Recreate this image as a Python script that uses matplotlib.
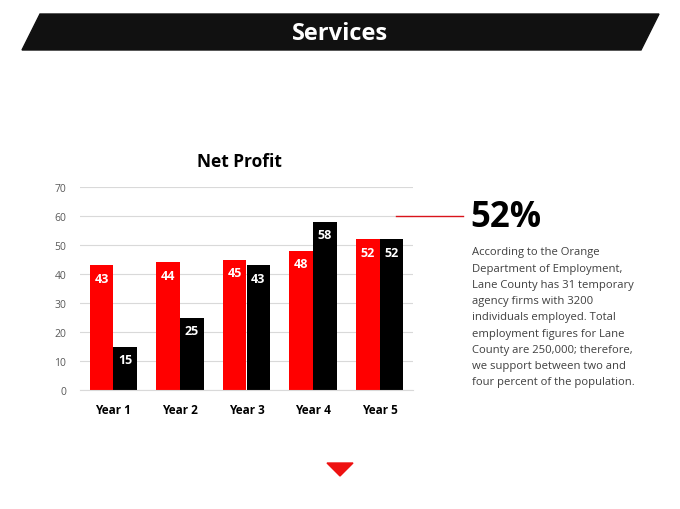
import numpy as np
import matplotlib.pyplot as plt
from matplotlib.patches import Polygon

plt.rcParams['font.family'] = ['Open Sans', 'DejaVu Sans']

# data
years = ['Year 1', 'Year 2', 'Year 3', 'Year 4', 'Year 5']
series_red = [43, 44, 45, 48, 52]
series_black = [15, 25, 43, 58, 52]
y_ticks = [0, 10, 20, 30, 40, 50, 60, 70]

headline = '52%'
body_lines = ["According to the Orange",
              "Department of Employment,",
              "Lane County has 31 temporary",
              "agency firms with 3200",
              "individuals employed. Total",
              "employment figures for Lane",
              "County are 250,000; therefore,",
              "we support between two and",
              "four percent of the population."]

W, H = 680, 510
fig = plt.figure(figsize=(6.8, 5.1), dpi=100)

# chart
ax = fig.add_axes([80 / W, 1 - 391 / H, 333 / W, 203 / H])
x = np.arange(len(years))
w = 0.355
b1 = ax.bar(x - w / 2, series_red, w, color='#ff0000')
b2 = ax.bar(x + w / 2, series_black, w, color='#000000')

for bars, vals in ((b1, series_red), (b2, series_black)):
    for r, v in zip(bars, vals):
        ax.text(r.get_x() + r.get_width() / 2, v - 2.2, str(v), color='white',
                fontsize=9, fontweight='bold', ha='center', va='top')

ax.set_xlim(-0.5, 4.5)
ax.set_ylim(0, 70)
ax.set_yticks(y_ticks)
ax.set_xticks(x)
ax.set_xticklabels(years, fontsize=8.5, fontweight='bold')
ax.tick_params(axis='y', labelsize=7.5, labelcolor='#595959', length=0, pad=10)
ax.tick_params(axis='x', length=0, pad=9)
ax.grid(axis='y', color='#d9d9d9', lw=0.8)
ax.set_axisbelow(True)
for s in ('top', 'right', 'left'):
    ax.spines[s].set_visible(False)
ax.spines['bottom'].set_color('#d9d9d9')
ax.set_title('Net Profit', fontsize=12.5, fontweight='bold', pad=15, x=0.48)

# overlay layer in pixel coords (y down)
bg = fig.add_axes([0, 0, 1, 1])
bg.set_zorder(5)
bg.set_xlim(0, W)
bg.set_ylim(H, 0)
bg.axis('off')

# banner
bg.add_patch(Polygon([(40, 15), (659, 15), (641, 51), (22, 51)],
                     closed=True, color='#111111'))
bg.text(340, 34, 'Services', color='white', fontsize=17, fontweight='bold',
        ha='center', va='center')

# red connector line + headline
bg.plot([396, 463], [217, 217], color='#d9141b', lw=1)
bg.text(470, 218, headline, fontsize=25, fontweight='bold', color='black',
        ha='left', va='center')
for i, line in enumerate(body_lines):
    bg.text(472, 253 + i * 16.25, line, fontsize=8.1, color='#404040',
            ha='left', va='center')

# bottom triangle
bg.add_patch(Polygon([(327, 464), (353, 464), (340, 477)], closed=True,
                     color='#ee1111'))

fig.savefig('out.png', dpi=100)
